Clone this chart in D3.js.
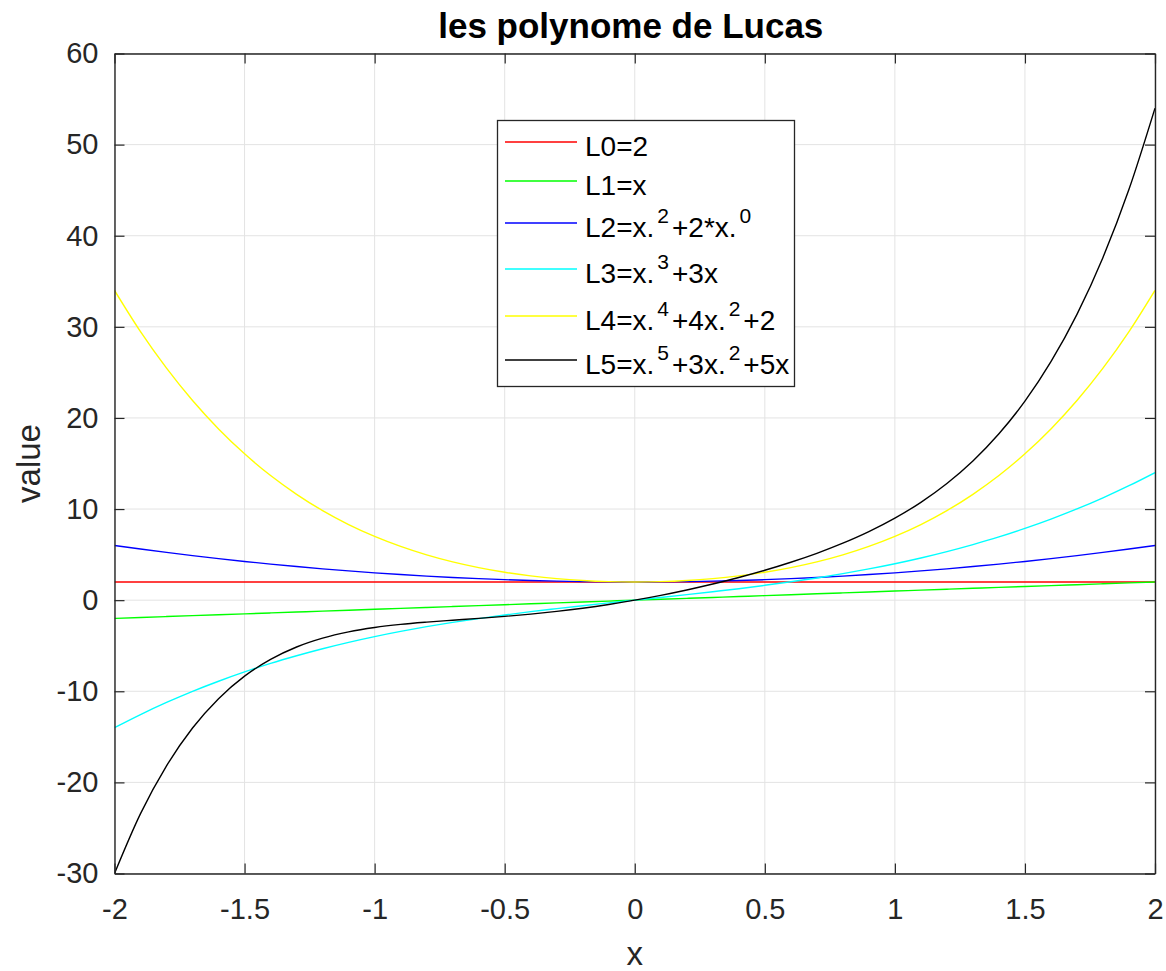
<!DOCTYPE html>
<html>
<head>
<meta charset="utf-8">
<script src="https://cdn.jsdelivr.net/npm/d3@7"></script>
<style>
  body { margin: 0; background: #fff; }
  text { font-family: "Liberation Sans", Arial, Helvetica, sans-serif; }
</style>
</head>
<body>
<div id="chart"></div>
<script>
// data
var xValues = [-2,-1.9,-1.8,-1.7,-1.6,-1.5,-1.4,-1.3,-1.2,-1.1,-1,-0.9,-0.8,-0.7,-0.6,-0.5,-0.4,-0.3,-0.2,-0.1,0,
  0.1,0.2,0.3,0.4,0.5,0.6,0.7,0.8,0.9,1,1.1,1.2,1.3,1.4,1.5,1.6,1.7,1.8,1.9,2];
var L0 = [2,2,2,2,2,2,2,2,2,2,2,2,2,2,2,2,2,2,2,2,2,2,2,2,2,2,2,2,2,2,2,2,2,2,2,2,2,2,2,2,2];
var L1 = [-2,-1.9,-1.8,-1.7,-1.6,-1.5,-1.4,-1.3,-1.2,-1.1,-1,-0.9,-0.8,-0.7,-0.6,-0.5,-0.4,-0.3,-0.2,-0.1,0,
  0.1,0.2,0.3,0.4,0.5,0.6,0.7,0.8,0.9,1,1.1,1.2,1.3,1.4,1.5,1.6,1.7,1.8,1.9,2];
var L2 = [6,5.61,5.24,4.89,4.56,4.25,3.96,3.69,3.44,3.21,3,2.81,2.64,2.49,2.36,2.25,2.16,2.09,2.04,2.01,2,
  2.01,2.04,2.09,2.16,2.25,2.36,2.49,2.64,2.81,3,3.21,3.44,3.69,3.96,4.25,4.56,4.89,5.24,5.61,6];
var L3 = [-14,-12.56,-11.23,-10.01,-8.9,-7.88,-6.94,-6.1,-5.33,-4.63,-4,-3.43,-2.91,-2.44,-2.02,-1.63,-1.26,-0.93,-0.61,-0.3,0,
  0.3,0.61,0.93,1.26,1.63,2.02,2.44,2.91,3.43,4,4.63,5.33,6.1,6.94,7.88,8.9,10.01,11.23,12.56,14];
var L4 = [34,29.47,25.46,21.91,18.79,16.06,13.68,11.62,9.83,8.3,7,5.9,4.97,4.2,3.57,3.06,2.67,2.37,2.16,2.04,2,
  2.04,2.16,2.37,2.67,3.06,3.57,4.2,4.97,5.9,7,8.3,9.83,11.62,13.68,16.06,18.79,21.91,25.46,29.47,34];
var L5 = [-30,-23.43,-18.18,-14.03,-10.81,-8.34,-6.5,-5.14,-4.17,-3.48,-3,-2.66,-2.41,-2.2,-2,-1.78,-1.53,-1.23,-0.88,-0.47,0,
  0.53,1.12,1.77,2.49,3.28,4.16,5.14,6.25,7.52,9,10.74,12.81,15.28,18.26,21.84,26.17,31.37,37.62,45.09,54];

var seriesNames = ["L0=2", "L1=x", "L2=x.^2+2*x.^0", "L3=x.^3+3x", "L4=x.^4+4x.^2+2", "L5=x.^5+3x.^2+5x"];
var seriesColors = ["#ff0000", "#00ff00", "#0000ff", "#00ffff", "#ffff00", "#000000"];
var seriesValues = [L0, L1, L2, L3, L4, L5];

var xTicks = [-2, -1.5, -1, -0.5, 0, 0.5, 1, 1.5, 2];
var yTicks = [-30, -20, -10, 0, 10, 20, 30, 40, 50, 60];

var svgWidth = 1166;
var svgHeight = 971;
var margin = { top: 53.5, right: 11, bottom: 97.5, left: 114.5 };
var width = svgWidth - margin.left - margin.right;
var height = svgHeight - margin.top - margin.bottom;

var svg = d3.select("#chart").append("svg")
  .attr("width", svgWidth)
  .attr("height", svgHeight);

var g = svg.append("g")
  .attr("transform", `translate(${margin.left}, ${margin.top})`);

var xScale = d3.scaleLinear().domain([-2, 2]).range([0, width]);
var yScale = d3.scaleLinear().domain([-30, 60]).range([height, 0]);

var axisColor = "#262626";

// grid
g.append("g").selectAll("line").data(xTicks).enter().append("line")
  .attr("x1", d => xScale(d)).attr("x2", d => xScale(d))
  .attr("y1", 0).attr("y2", height)
  .attr("stroke", "#e3e3e3").attr("stroke-width", 1);
g.append("g").selectAll("line").data(yTicks).enter().append("line")
  .attr("y1", d => yScale(d)).attr("y2", d => yScale(d))
  .attr("x1", 0).attr("x2", width)
  .attr("stroke", "#e3e3e3").attr("stroke-width", 1);

// lines
g.append("clipPath").attr("id", "clip").append("rect")
  .attr("width", width).attr("height", height);

var line = d3.line()
  .x((d, i) => xScale(xValues[i]))
  .y(d => yScale(d))
  .curve(d3.curveMonotoneX);

g.append("g").attr("clip-path", "url(#clip)")
  .selectAll("path").data(seriesValues).enter().append("path")
  .attr("d", d => line(d))
  .attr("fill", "none")
  .attr("stroke", (d, i) => seriesColors[i])
  .attr("stroke-width", 1.4);

// axes (MATLAB style: inward ticks, mirrored on top/right)
var tickLen = 10;
var plainFmt = d => String(d);   // hyphen minus like the original
var xAxis = d3.axisBottom(xScale).tickValues(xTicks).tickSizeInner(-tickLen).tickSizeOuter(0).tickPadding(25)
  .tickFormat(plainFmt);
var yAxis = d3.axisLeft(yScale).tickValues(yTicks).tickSizeInner(-tickLen).tickSizeOuter(0).tickPadding(16)
  .tickFormat(plainFmt);
var xAxisTop = d3.axisTop(xScale).tickValues(xTicks).tickSizeInner(-tickLen).tickSizeOuter(0).tickFormat("");
var yAxisRight = d3.axisRight(yScale).tickValues(yTicks).tickSizeInner(-tickLen).tickSizeOuter(0).tickFormat("");

function styleAxis(sel) {
  sel.selectAll("path").attr("stroke", axisColor).attr("stroke-width", 1.4);
  sel.selectAll("line").attr("stroke", axisColor).attr("stroke-width", 1.2);
  sel.selectAll("text").attr("fill", axisColor).attr("font-size", 29)
    .attr("font-family", "'Liberation Sans', Arial, Helvetica, sans-serif");
}

g.append("g").attr("transform", `translate(0, ${height})`).call(xAxis).call(styleAxis);
g.append("g").call(yAxis).call(styleAxis);
g.append("g").call(xAxisTop).call(styleAxis);
g.append("g").attr("transform", `translate(${width}, 0)`).call(yAxisRight).call(styleAxis);

// title and axis labels
svg.append("text")
  .attr("x", margin.left + width / 2 - 4)
  .attr("y", 38)
  .attr("text-anchor", "middle")
  .attr("font-size", 35)
  .attr("font-weight", "bold")
  .attr("fill", "#000")
  .text("les polynome de Lucas");

svg.append("text")
  .attr("x", margin.left + width / 2)
  .attr("y", 965)
  .attr("text-anchor", "middle")
  .attr("font-size", 33)
  .attr("fill", axisColor)
  .text("x");

svg.append("text")
  .attr("transform", `translate(40, ${margin.top + height / 2}) rotate(-90)`)
  .attr("text-anchor", "middle")
  .attr("font-size", 33)
  .attr("fill", axisColor)
  .text("value");

// legend
var legendRows = [142, 181, 223, 269, 316, 360];
var legend = svg.append("g");
legend.append("rect")
  .attr("x", 497.5).attr("y", 120.5)
  .attr("width", 297).attr("height", 266)
  .attr("fill", "#fff")
  .attr("stroke", axisColor).attr("stroke-width", 1.3);

seriesNames.forEach((name, i) => {
  var y = legendRows[i];
  legend.append("line")
    .attr("x1", 505).attr("x2", 577)
    .attr("y1", y).attr("y2", y)
    .attr("stroke", seriesColors[i]).attr("stroke-width", 1.4);
  var t = legend.append("text")
    .attr("x", 585).attr("y", y + 14)
    .attr("font-size", 28)
    .attr("fill", "#000");
  // split label into normal and superscript parts ("^" marks a superscript char)
  var parts = name.split("^");
  parts.forEach((p, j) => {
    if (j === 0) {
      t.append("tspan").text(p);
    } else {
      t.append("tspan").attr("dx", 3).attr("dy", -14).attr("font-size", 21).text(p[0]);
      t.append("tspan").attr("dx", 3).attr("dy", 14).text(p.slice(1));
    }
  });
});
</script>
</body>
</html>
